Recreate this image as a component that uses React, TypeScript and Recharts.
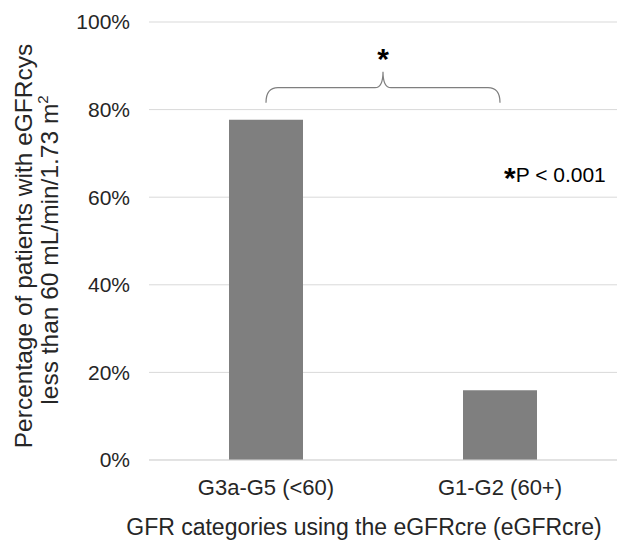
import React from 'react'
import {BarChart, Bar, XAxis, YAxis, CartesianGrid, ReferenceLine, ReferenceDot} from 'recharts';

const categories = ['G3a-G5 (<60)', 'G1-G2 (60+)'];
const percentValues = [77.7, 15.9];
const yTicks = [0, 20, 40, 60, 80, 100];
const braceLevel = 85;
const pNoteLevel = 65;

const FONT = '"Liberation Sans", Arial, sans-serif';
const TEXT = '#262626';

const data = categories.map((c, i) => ({category: c, value: percentValues[i]}));

const Brace = (props: any) => {
  const {x1, y1, x2} = props;
  const xm = (x1 + x2) / 2;
  const d = `M ${x1} ${y1 + 15} Q ${x1} ${y1} ${x1 + 12} ${y1} L ${xm - 8} ${y1} Q ${xm} ${y1} ${xm} ${y1 - 16} ` +
    `Q ${xm} ${y1} ${xm + 8} ${y1} L ${x2 - 12} ${y1} Q ${x2} ${y1} ${x2} ${y1 + 15}`;
  return (
    <g>
      <path d={d} fill="none" stroke="#7f7f7f" strokeWidth={1.2}/>
      <text x={xm} y={y1 - 19} textAnchor="middle" fontFamily={FONT} fontSize={30} fontWeight="bold" fill="#000">*</text>
    </g>
  );
};

const PNote = (props: any) => {
  const {cx, cy} = props;
  return (
    <text x={cx + 4} y={cy + 7} fontFamily={FONT} fill="#000">
      <tspan fontSize={30} fontWeight="bold" dy={6}>*</tspan>
      <tspan fontSize={21} dy={-6}>P &lt; 0.001</tspan>
    </text>
  );
};

const YTitle = () => (
  <g fontFamily={FONT} fontSize={24.5} fill={TEXT}>
    <text transform="translate(32,246) rotate(-90)" textAnchor="middle">Percentage of patients with eGFRcys</text>
    <text transform="translate(58,250) rotate(-90)" textAnchor="middle">
      less than 60 mL/min/1.73 m<tspan fontSize={15} dy={-10}>2</tspan>
    </text>
  </g>
);

const XTitle = () => (
  <text x={364} y={535} textAnchor="middle" fontFamily={FONT} fontSize={23} fill={TEXT}>
    GFR categories using the eGFRcre (eGFRcre)
  </text>
);

export default function App() {
  return (
    <div style={{position: 'absolute', left: 0, top: 0, background: '#fff'}}>
      <BarChart width={617} height={541} data={data} margin={{top: 22, right: 0, bottom: 51, left: 0}}>
        <CartesianGrid vertical={false} stroke="#d9d9d9"/>
        <XAxis dataKey="category" height={30} axisLine={{stroke: '#d9d9d9'}} tickLine={false} tickSize={0} tickMargin={19}
          tick={{fontSize: 22, fill: TEXT, fontFamily: FONT}} label={<XTitle/>}/>
        <YAxis width={149} domain={[0, 100]} ticks={yTicks} tickFormatter={(v: number) => `${v}%`}
          axisLine={false} tickLine={false} tickSize={0} tickMargin={19}
          tick={{fontSize: 21, fill: TEXT, fontFamily: FONT}} label={<YTitle/>}/>
        <Bar dataKey="value" fill="#7f7f7f" barSize={74} isAnimationActive={false}/>
        <ReferenceLine segment={[{x: categories[0], y: braceLevel}, {x: categories[1], y: braceLevel}]} shape={<Brace/>}/>
        <ReferenceDot x={categories[1]} y={pNoteLevel} r={0} shape={<PNote/>}/>
      </BarChart>
    </div>
  );
}
